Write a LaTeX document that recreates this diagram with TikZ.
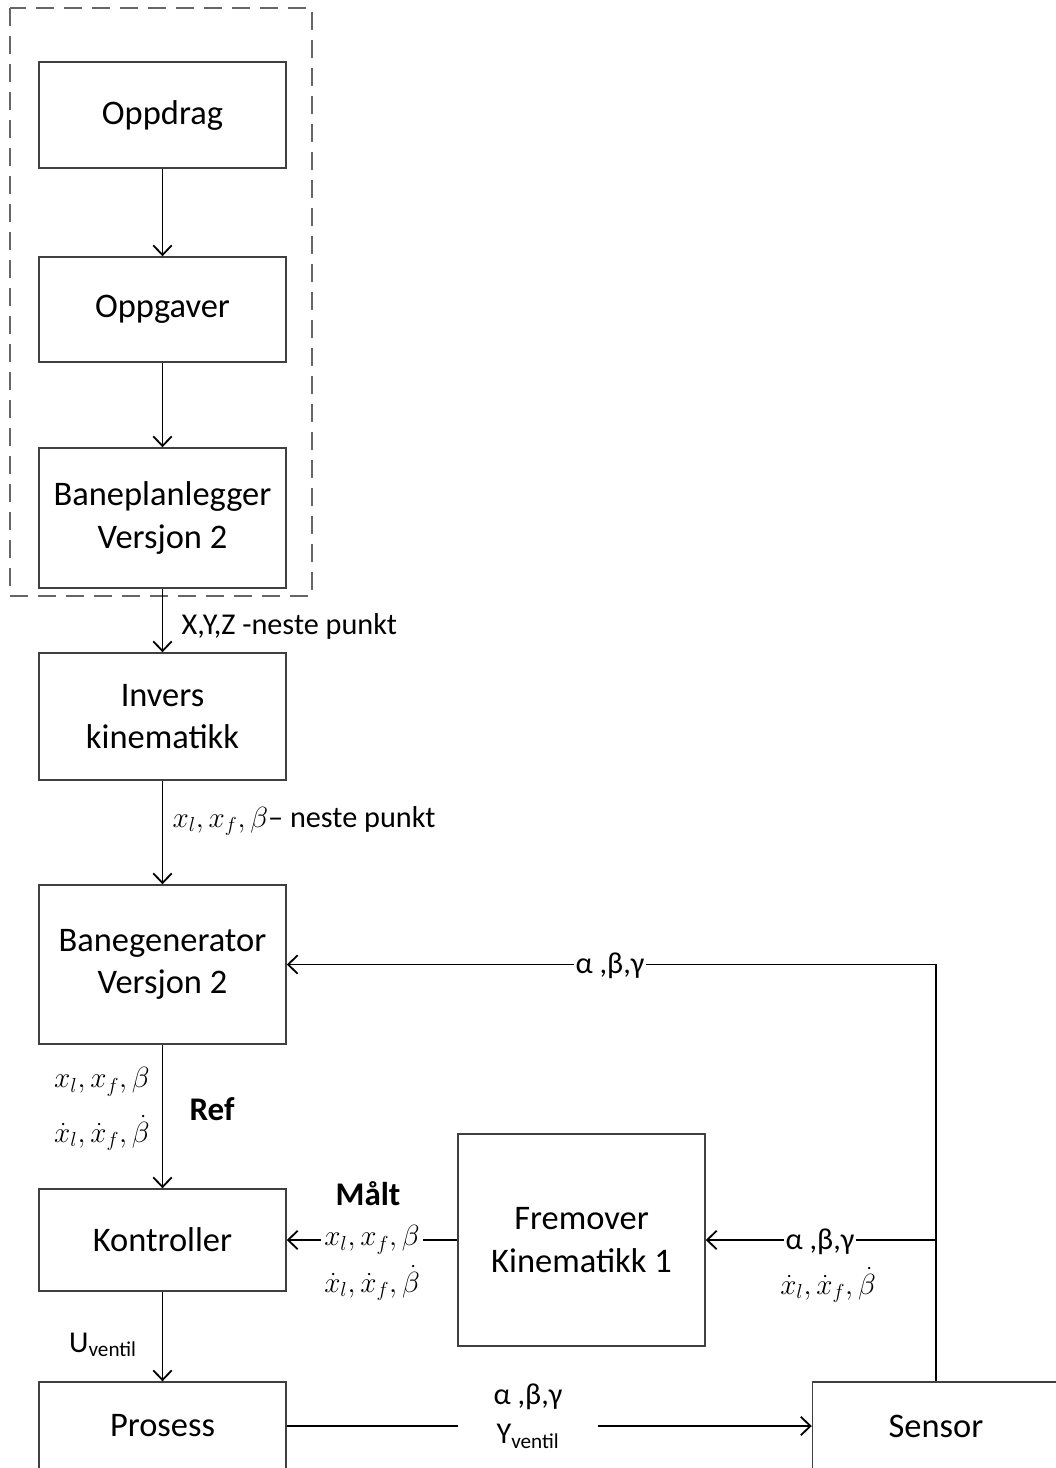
\documentclass[tikz,border=0pt]{standalone}
\usepackage{fontspec}
\setmainfont{Carlito}
\usetikzlibrary{arrows.meta,positioning}
\tikzset{blokk/.style={draw=black!75, line width=1pt, minimum width=6.175cm, align=center, font=\fontsize{24.5}{30}\selectfont},
	pil/.style={-{Straight Barb[length=2.4mm,width=4.6mm]}, line width=1.3pt},
	merke/.style={font=\fontsize{21.5}{28}\selectfont, inner sep=1pt, align=center},
	formel/.style={font=\fontsize{21.5}{26}\selectfont, inner sep=0pt},
	fet/.style={font=\fontsize{23.5}{26}\selectfont\bfseries, inner sep=1pt}}

\begin{document}
\begin{tikzpicture}[x=0.025cm,y=-0.025cm]
	\useasboundingbox (0,0) rectangle (1055,1468);
	\draw[black!60, line width=1pt, dash pattern=on 4.5mm off 2.5mm] (10,8) rectangle (312,596);
	% blokker
	\node[blokk, minimum height=2.65cm] (oppdrag) at (162.5,115) {Oppdrag};
	\node[blokk, minimum height=2.625cm] (oppgaver) at (162.5,309.5) {Oppgaver};
	\node[blokk, minimum height=3.5cm] (baneplan) at (162.5,518) {Baneplanlegger\\Versjon 2};
	\node[blokk, minimum height=3.175cm] (invers) at (162.5,716.5) {Invers\\kinematikk};
	\node[blokk, minimum height=3.975cm] (banegen) at (162.5,964.5) {Banegenerator\\Versjon 2};
	\node[blokk, minimum height=2.55cm] (kontroller) at (162.5,1240) {Kontroller};
	\node[blokk, minimum height=2.2cm] (prosess) at (162.5,1426) {Prosess};
	\node[blokk, minimum height=5.3cm] (fremover) at (581.5,1240) {Fremover\\Kinematikk 1};
	\node[blokk, minimum height=2.2cm] (sensor) at (936,1426) {Sensor};
	\coordinate (gren) at (936,1240);
	% piler
	\draw[pil] (oppdrag) -- (oppgaver);
	\draw[pil] (oppgaver) -- (baneplan);
	\draw[pil] (baneplan) -- (invers);
	\node[merke, anchor=west] (xyz) at (180,626) {X,Y,Z -neste punkt};
	\draw[pil] (invers) -- (banegen);
	\node[merke, anchor=west] (neste) at (171,821) {$x_l, x_f, \beta$– neste punkt};
	\draw[pil] (banegen) -- (kontroller);
	\node[formel, anchor=east] (refpos) at (150,1082) {$x_l, x_f, \beta$};
	\node[formel, anchor=east] (refhast) at (150,1133) {$\dot{x}_l, \dot{x}_f, \dot{\beta}$};
	\node[fet] (ref) at (212,1109) {Ref};
	\draw[pil] (kontroller) -- (prosess);
	\node[merke] (uventil) at (103,1345) {U\textsubscript{ventil}};
	\draw[pil] (sensor.north) |- (banegen.east);
	\node[merke, fill=white] (fbvinkel) at (610,966) {α ,β,γ};
	\draw[pil] (gren) -- (fremover.east);
	\node[merke, fill=white] (fkvinkel) at (820,1242) {α ,β,γ};
	\node[formel] (fkhast) at (828,1285) {$\dot{x}_l, \dot{x}_f, \dot{\beta}$};
	\draw[pil] (fremover.west) -- (kontroller.east);
	\node[formel, fill=white, inner xsep=2pt] (maltpos) at (372,1240) {$x_l, x_f, \beta$};
	\node[formel] (malthast) at (372,1283) {$\dot{x}_l, \dot{x}_f, \dot{\beta}$};
	\node[fet] (malt) at (368,1194) {Målt};
	\node[merke, minimum width=3.475cm] (prosut) at (528,1416) {α ,β,γ\\Y\textsubscript{ventil}};
	\draw[line width=1.3pt] (prosess.east) -- (prosess.east -| prosut.west);
	\draw[pil] (sensor.west -| prosut.east) -- (sensor.west);
\end{tikzpicture}
\end{document}
